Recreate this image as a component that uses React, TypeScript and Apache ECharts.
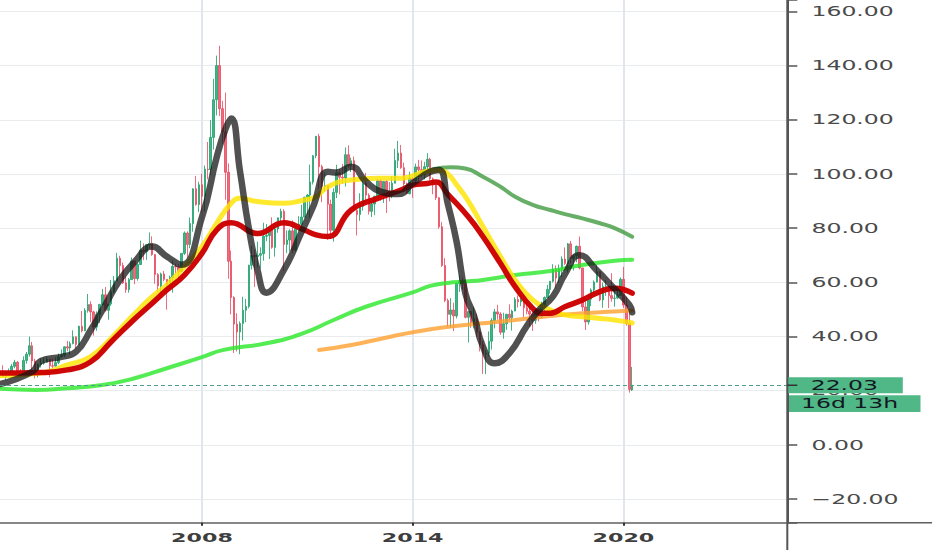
import React, { useEffect, useRef } from "react";
import * as echarts from "echarts";

const W = 932;
const H = 550;
const AXIS_X = 787.3;
const AXIS_Y = 522.7;

// ---- categories: monthly bars from 2002-04 ----
const firstYear = 2002;
const firstMonthNum = 4;
const monthCount = 270;
const months: string[] = Array.from({ length: monthCount }, (_, i) => {
  const t = firstMonthNum - 1 + i;
  const y = firstYear + Math.floor(t / 12);
  const m = (t % 12) + 1;
  return `${y}-${String(m).padStart(2, "0")}`;
});

// ---- tick labels ----
const yTicks = [-20, 0, 20, 40, 60, 80, 100, 120, 140, 160];
const xTickMonths = ["2008-01", "2014-01", "2020-01"];
const xTickLabels = ["2008", "2014", "2020"];
const lastPrice = 22.03;
const countdown = "16d 13h";

// ---- monthly candles [open, close, low, high] from 2002-04 ----
const candles: number[][] = [
  // 2002
  [26.3, 27.3, 23.4, 28.4], [27.3, 25.3, 24.9, 29.4], [25.3, 26.9, 24.0, 27.0], [26.9, 27.0, 25.8, 28.2],
  [27.0, 29.0, 26.1, 29.9], [29.0, 30.5, 28.3, 31.4], [30.5, 27.2, 26.8, 31.0], [27.2, 26.9, 25.1, 28.0],
  [26.9, 31.2, 26.1, 32.7],
  // 2003
  [31.2, 33.5, 30.0, 34.3], [33.5, 36.6, 32.6, 40.0], [36.6, 31.0, 26.9, 38.0], [31.0, 25.8, 24.6, 31.8],
  [25.8, 29.6, 24.9, 30.0], [29.6, 30.2, 28.6, 32.0], [30.2, 30.5, 29.6, 32.4], [30.5, 31.6, 30.4, 32.6],
  [31.6, 29.2, 25.0, 31.7], [29.2, 29.1, 28.4, 31.8], [29.1, 30.4, 28.9, 32.3], [30.4, 32.5, 29.8, 33.7],
  // 2004
  [32.5, 33.1, 32.2, 35.3], [33.1, 36.2, 32.4, 36.4], [36.2, 35.8, 34.6, 38.4], [35.8, 37.4, 33.3, 38.2],
  [37.4, 39.9, 37.1, 42.3], [39.9, 37.1, 35.6, 40.0], [37.1, 43.8, 37.0, 44.0], [43.8, 42.1, 41.5, 49.4],
  [42.1, 49.6, 42.0, 50.5], [49.6, 51.8, 48.8, 55.7], [51.8, 49.1, 45.3, 53.0], [49.1, 43.5, 40.3, 49.5],
  // 2005
  [43.5, 48.2, 42.1, 49.3], [48.2, 51.8, 45.0, 52.1], [51.8, 55.4, 51.2, 57.6], [55.4, 49.7, 49.2, 58.3],
  [49.7, 52.0, 46.2, 52.1], [52.0, 56.5, 51.3, 60.9], [56.5, 60.6, 56.0, 62.3], [60.6, 68.9, 60.4, 70.9],
  [68.9, 66.2, 62.3, 69.8], [66.2, 59.8, 59.4, 67.3], [59.8, 57.3, 56.1, 62.1], [57.3, 61.0, 56.2, 61.6],
  // 2006
  [61.0, 67.9, 61.0, 69.2], [67.9, 61.4, 59.3, 68.0], [61.4, 66.6, 60.6, 67.2], [66.6, 71.9, 66.4, 75.4],
  [71.9, 71.3, 68.2, 74.4], [71.3, 73.9, 68.3, 74.0], [73.9, 74.4, 72.5, 78.4], [74.4, 70.3, 69.8, 77.0],
  [70.3, 62.9, 59.5, 70.3], [62.9, 58.7, 56.6, 63.4], [58.7, 63.1, 55.9, 63.6], [63.1, 61.1, 60.4, 64.2],
  // 2007
  [61.1, 58.1, 49.9, 61.1], [58.1, 61.8, 57.2, 62.5], [61.8, 65.9, 56.2, 68.1], [65.9, 65.7, 63.0, 66.9],
  [65.7, 64.0, 61.3, 66.8], [64.0, 70.7, 64.0, 70.7], [70.7, 78.2, 70.1, 78.8], [78.2, 74.0, 69.0, 78.8],
  [74.0, 81.7, 72.6, 83.9], [81.7, 94.5, 78.7, 94.7], [94.5, 88.7, 88.3, 99.3], [88.7, 96.0, 85.9, 97.1],
  // 2008
  [96.0, 91.8, 86.1, 100.1], [91.8, 101.8, 86.1, 103.1], [101.8, 101.6, 98.0, 111.8], [101.6, 113.5, 99.6, 119.9],
  [113.5, 127.4, 109.0, 135.1], [127.4, 140.0, 121.6, 143.7], [140.0, 124.1, 121.4, 147.3], [124.1, 115.5, 111.3, 127.0],
  [115.5, 100.6, 90.5, 130.0], [100.6, 67.8, 61.3, 103.9], [67.8, 54.4, 48.2, 71.8], [54.4, 44.6, 33.9, 54.9],
  // 2009
  [44.6, 41.7, 34.5, 48.6], [41.7, 44.8, 33.5, 45.6], [44.8, 49.7, 38.5, 54.7], [49.7, 51.1, 45.3, 53.9],
  [51.1, 66.3, 50.4, 66.5], [66.3, 69.9, 64.7, 73.4], [69.9, 69.5, 58.3, 72.0], [69.5, 70.0, 65.5, 75.0],
  [70.0, 70.6, 65.1, 72.9], [70.6, 77.0, 68.0, 82.0], [77.0, 77.3, 75.2, 81.5], [77.3, 79.4, 68.6, 80.0],
  // 2010
  [79.4, 72.9, 72.4, 84.0], [72.9, 79.7, 69.5, 80.5], [79.7, 83.8, 78.3, 83.9], [83.8, 86.2, 82.0, 87.2],
  [86.2, 74.0, 64.2, 87.0], [74.0, 75.6, 70.8, 79.2], [75.6, 79.0, 71.4, 79.6], [79.0, 71.9, 70.8, 82.9],
  [71.9, 80.0, 71.3, 80.2], [80.0, 81.4, 79.0, 84.4], [81.4, 84.1, 79.7, 88.6], [84.1, 91.4, 83.9, 91.6],
  // 2011
  [91.4, 92.2, 85.1, 92.6], [92.2, 97.0, 83.9, 103.4], [97.0, 106.7, 96.1, 107.0], [106.7, 113.9, 105.8, 114.0],
  [113.9, 102.7, 94.6, 114.8], [102.7, 95.4, 89.6, 103.4], [95.4, 95.7, 93.4, 100.6], [95.7, 88.8, 75.7, 95.8],
  [88.8, 79.2, 77.1, 90.5], [79.2, 93.2, 75.0, 94.7], [93.2, 100.4, 91.1, 103.4], [100.4, 98.8, 92.5, 101.8],
  // 2012
  [98.8, 98.5, 96.4, 103.7], [98.5, 107.1, 95.4, 109.8], [107.1, 103.0, 102.1, 110.6], [103.0, 104.9, 100.7, 106.0],
  [104.9, 86.5, 86.2, 106.4], [86.5, 85.0, 77.3, 86.9], [85.0, 88.1, 82.7, 92.9], [88.1, 96.5, 86.5, 98.3],
  [96.5, 92.2, 89.6, 100.4], [92.2, 86.2, 85.0, 92.9], [86.2, 88.9, 84.1, 89.9], [88.9, 91.8, 84.8, 91.9],
  // 2013
  [91.8, 97.5, 91.8, 98.2], [97.5, 92.1, 90.1, 98.0], [92.1, 97.2, 89.3, 97.4], [97.2, 93.5, 85.6, 97.8],
  [93.5, 92.0, 89.9, 97.0], [92.0, 96.6, 91.1, 99.1], [96.6, 105.0, 96.6, 109.3], [105.0, 107.7, 102.2, 112.2],
  [107.7, 102.3, 101.9, 110.7], [102.3, 96.4, 95.6, 104.2], [96.4, 92.7, 92.5, 96.9], [92.7, 98.4, 92.5, 100.8],
  // 2014
  [98.4, 97.5, 91.2, 98.9], [97.5, 102.6, 96.0, 103.8], [102.6, 101.6, 97.4, 105.2], [101.6, 99.7, 98.9, 105.0],
  [99.7, 102.7, 98.0, 104.5], [102.7, 105.4, 101.4, 107.7], [105.4, 98.2, 97.6, 106.0], [98.2, 96.0, 92.5, 98.7],
  [96.0, 91.2, 90.4, 96.0], [91.2, 80.5, 79.8, 91.5], [80.5, 66.2, 65.7, 82.2], [66.2, 53.3, 52.7, 68.9],
  // 2015
  [53.3, 48.2, 43.6, 54.0], [48.2, 49.8, 43.2, 54.2], [49.8, 47.6, 42.0, 52.5], [47.6, 59.6, 46.7, 59.9],
  [59.6, 60.3, 56.5, 62.6], [60.3, 59.5, 57.3, 61.8], [59.5, 47.1, 46.7, 59.9], [47.1, 49.2, 37.8, 49.3],
  [49.2, 45.1, 43.2, 49.4], [45.1, 46.6, 43.0, 50.9], [46.6, 41.7, 39.9, 48.4], [41.7, 37.0, 34.5, 42.0],
  // 2016
  [37.0, 33.6, 26.2, 38.4], [33.6, 33.8, 26.1, 35.0], [33.8, 38.3, 32.7, 41.9], [38.3, 45.9, 35.2, 46.8],
  [45.9, 49.1, 43.0, 50.2], [49.1, 48.3, 46.2, 51.7], [48.3, 41.6, 40.6, 49.0], [41.6, 44.7, 39.2, 48.8],
  [44.7, 48.2, 42.5, 48.4], [48.2, 46.9, 46.0, 51.9], [46.9, 49.4, 42.2, 49.9], [49.4, 53.7, 49.4, 54.5],
  // 2017
  [53.7, 52.8, 50.7, 55.2], [52.8, 54.0, 51.2, 54.9], [54.0, 50.6, 47.1, 54.3], [50.6, 49.3, 48.2, 53.8],
  [49.3, 48.3, 43.8, 52.0], [48.3, 46.0, 42.1, 49.3], [46.0, 50.2, 44.7, 50.4], [50.2, 47.2, 45.6, 50.4],
  [47.2, 51.7, 46.6, 52.9], [51.7, 54.4, 49.1, 54.8], [54.4, 57.4, 54.2, 59.1], [57.4, 60.4, 55.8, 60.5],
  // 2018
  [60.4, 64.7, 59.9, 66.7], [64.7, 61.6, 58.1, 66.2], [61.6, 64.9, 59.9, 66.6], [64.9, 68.6, 62.0, 69.6],
  [68.6, 67.0, 66.4, 72.9], [67.0, 74.2, 63.6, 74.5], [74.2, 68.8, 67.0, 75.3], [68.8, 69.8, 64.4, 70.5],
  [69.8, 73.3, 67.4, 73.6], [73.3, 65.3, 64.8, 76.9], [65.3, 50.9, 49.4, 65.4], [50.9, 45.4, 42.4, 54.6],
  // 2019
  [45.4, 53.8, 44.4, 55.6], [53.8, 57.2, 51.2, 57.8], [57.2, 60.1, 55.4, 60.7], [60.1, 63.9, 60.0, 66.6],
  [63.9, 53.5, 53.0, 64.0], [53.5, 58.5, 50.6, 59.9], [58.5, 58.6, 55.0, 60.9], [58.6, 55.1, 50.5, 58.8],
  [55.1, 54.1, 52.9, 63.4], [54.1, 54.2, 51.0, 56.9], [54.2, 55.2, 53.9, 58.7], [55.2, 61.1, 55.0, 61.8],
  // 2020
  [61.1, 51.6, 50.6, 65.7], [51.6, 44.8, 44.0, 54.7], [44.8, 20.5, 19.3, 48.7], [20.3, 22.03, 19.9, 28.8],
];

// ---- moving-average style lines ----
const blackLine: [string, number][] = [
  ["2002-04", 22.5], ["2003-03", 27], ["2003-06", 31], ["2004-01", 32.5], ["2004-06", 34.4],
  ["2004-11", 42.4], ["2005-04", 51.7], ["2005-09", 61], ["2006-02", 67.6], ["2006-08", 73.2],
  ["2007-01", 69.5], ["2007-06", 66.5], ["2008-01", 84], ["2008-06", 106], ["2008-09", 116.5],
  ["2008-11", 120.5], ["2009-02", 101], ["2009-05", 80], ["2009-08", 64.5], ["2009-11", 56.2],
  ["2010-05", 64.6], ["2010-11", 78.5], ["2011-03", 88], ["2011-08", 100.8], ["2011-11", 100.5],
  ["2012-04", 102.7], ["2012-09", 97.2], ["2013-02", 93.5], ["2013-08", 92.6], ["2014-01", 96.5],
  ["2014-07", 100.8], ["2014-10", 101.5], ["2015-01", 89], ["2015-04", 75], ["2015-07", 56],
  ["2015-10", 47.5], ["2016-01", 36.3], ["2016-05", 30.1], ["2016-10", 33.8], ["2017-04", 43.9],
  ["2017-08", 49.6], ["2018-01", 54.9], ["2018-05", 63], ["2018-10", 70], ["2019-04", 64.3],
  ["2019-09", 58.7], ["2020-03", 51.7], ["2020-04", 49],
];
const yellowLine: [string, number][] = [
  ["2002-04", 25.5], ["2003-06", 26.5], ["2004-03", 29.5], ["2004-11", 32.6], ["2005-06", 39.4],
  ["2006-01", 47.3], ["2006-08", 54.7], ["2007-01", 59], ["2007-07", 65.8], ["2008-01", 73.2],
  ["2008-06", 81.8], ["2008-11", 89.2], ["2009-02", 91], ["2009-08", 89.8], ["2010-05", 89.2],
  ["2010-12", 90.4], ["2011-04", 91.6], ["2011-08", 95.3], ["2012-04", 97.8], ["2013-01", 98.4],
  ["2013-09", 98.4], ["2014-06", 101], ["2014-10", 101.3], ["2015-01", 100], ["2015-04", 96],
  ["2015-08", 90], ["2016-01", 80.6], ["2016-07", 69.5], ["2016-12", 60.9], ["2017-06", 53.5],
  ["2017-12", 49.8], ["2018-05", 48], ["2018-11", 47.3], ["2019-05", 46.7], ["2019-10", 46.1],
  ["2020-04", 45],
];
const redLine: [string, number][] = [
  ["2002-04", 26.5], ["2003-06", 26.7], ["2004-03", 27.7], ["2004-11", 30.7], ["2005-06", 38.1],
  ["2006-01", 45.5], ["2006-08", 52.3], ["2007-01", 57.2], ["2007-07", 62.7], ["2008-01", 70.7],
  ["2008-06", 79.3], ["2008-11", 82], ["2009-08", 78], ["2010-05", 82], ["2010-12", 79.3],
  ["2011-04", 77.5], ["2011-08", 76.9], ["2012-04", 86.7], ["2013-01", 91], ["2013-09", 94.1],
  ["2014-01", 95.9], ["2014-06", 96.5], ["2014-09", 97], ["2015-01", 92.5], ["2015-08", 84.2],
  ["2016-01", 76.9], ["2016-07", 67], ["2016-12", 58.4], ["2017-06", 50.4], ["2017-09", 48.6],
  ["2017-12", 48.6], ["2018-05", 51], ["2018-11", 53.5], ["2019-05", 56.6], ["2019-10", 57.8],
  ["2020-04", 56],
];
const darkGreenLine: [string, number][] = [
  ["2014-03", 99.5], ["2014-08", 101.8], ["2015-02", 102.5], ["2015-07", 102], ["2016-01", 99],
  ["2016-07", 95.3], ["2016-12", 91.6], ["2017-06", 88.6], ["2017-12", 86.7], ["2018-05", 85.2],
  ["2018-11", 83.6], ["2019-05", 81.8], ["2019-10", 80], ["2020-04", 76.8],
];
const brightGreenLine: [string, number][] = [
  ["2002-04", 20.7], ["2003-04", 20.3], ["2004-03", 20.9], ["2005-03", 22.1], ["2006-02", 24.6],
  ["2007-01", 28.3], ["2008-01", 32.4], ["2008-08", 35], ["2009-11", 37.5], ["2010-11", 41],
  ["2011-10", 46.1], ["2012-09", 51], ["2014-01", 56.3], ["2014-07", 58.7], ["2015-01", 59.8],
  ["2015-07", 60.3], ["2016-01", 60.9], ["2016-12", 62.7], ["2017-12", 64.2], ["2018-11", 66.4],
  ["2019-10", 68], ["2020-04", 68.3],
];
const orangeLine: [string, number][] = [
  ["2011-05", 35], ["2012-04", 36.9], ["2013-03", 39.4], ["2014-02", 41.8], ["2015-02", 43.7],
  ["2016-01", 44.9], ["2016-12", 46.1], ["2017-12", 47.6], ["2018-11", 48.6], ["2019-10", 49.2],
  ["2020-04", 49.6],
];

const UP = "rgba(38,163,112,0.85)";
const DOWN = "rgba(232,72,95,0.8)";
const BOX = "#4fb886";
const LABEL_SCALE = 1.68;

function lineSeries(name: string, data: [string, number][], color: string, width: number) {
  return {
    name,
    type: "line",
    data,
    smooth: 0.5,
    symbol: "none",
    showSymbol: false,
    silent: true,
    lineStyle: { color, width, cap: "round", join: "round" },
    z: 3,
  };
}

function buildOption() {
  const isTick = (_i: number, v: string) => xTickMonths.includes(v);
  return {
    animation: false,
    backgroundColor: "#ffffff",
    grid: { left: 0, right: W - AXIS_X, top: 0, bottom: H - AXIS_Y, containLabel: false },
    xAxis: {
      type: "category",
      data: months,
      boundaryGap: false,
      axisLine: { show: true, onZero: false, lineStyle: { color: "#5f5f5f", width: 1.5 } },
      axisTick: { show: true, interval: isTick, length: 3, lineStyle: { color: "#333", width: 2 } },
      axisLabel: { show: false },
      splitLine: { show: true, interval: isTick, lineStyle: { color: "#e0e6ed", width: 2 } },
    },
    yAxis: {
      type: "value",
      position: "right",
      min: -28.7,
      max: 164.2,
      splitNumber: 10,
      axisLine: { show: true, lineStyle: { color: "#555", width: 2 } },
      axisTick: { show: true, length: 10, lineStyle: { color: "#555", width: 1.5 } },
      axisLabel: { show: false },
      splitLine: {
        show: true,
        showMinLine: false,
        showMaxLine: false,
        lineStyle: { color: "#e9ecef", width: 1 },
      },
    },
    series: [
      {
        name: "WTI",
        type: "candlestick",
        data: candles,
        barWidth: 2,
        silent: true,
        itemStyle: { color: UP, color0: DOWN, borderColor: UP, borderColor0: DOWN, borderWidth: 1 },
        markLine: {
          silent: true,
          symbol: ["none", "none"],
          label: { show: false },
          lineStyle: { color: "#4f9f86", type: [4, 3], width: 1 },
          data: [{ yAxis: lastPrice }],
        },
        z: 2,
      },
      lineSeries("MA orange", orangeLine, "rgba(255,160,48,0.8)", 4),
      lineSeries("MA lime", brightGreenLine, "rgba(40,232,40,0.8)", 4),
      lineSeries("MA green", darkGreenLine, "rgba(52,148,52,0.75)", 4),
      lineSeries("MA yellow", yellowLine, "rgba(255,228,0,0.82)", 5),
      lineSeries("MA red", redLine, "rgba(204,0,0,0.97)", 5.5),
      lineSeries("MA black", blackLine, "rgba(20,20,20,0.74)", 6.5),
    ],
  };
}

function textEl(text: string, x: number, y: number, opts: any) {
  return {
    type: "text",
    x,
    y,
    scaleX: opts.scaleX ?? LABEL_SCALE,
    z: opts.z ?? 110,
    silent: true,
    style: {
      text,
      fill: opts.fill ?? "#4a4a4a",
      fontSize: opts.fontSize ?? 14,
      fontFamily: "DejaVu Sans",
      fontWeight: opts.fontWeight ?? "normal",
      align: opts.align ?? "left",
      textAlign: opts.align ?? "left",
      verticalAlign: "middle",
      textVerticalAlign: "middle",
    },
  };
}

export default function App() {
  const ref = useRef<HTMLDivElement>(null);
  useEffect(() => {
    document.body.style.margin = "0";
    if (!ref.current) return;
    const chart = echarts.init(ref.current, undefined, { renderer: "svg", width: W, height: H });
    chart.setOption(buildOption() as any);

    const xPix = (m: string) => chart.convertToPixel({ xAxisIndex: 0 }, months.indexOf(m)) as number;
    const yPix = (v: number) => chart.convertToPixel({ yAxisIndex: 0 }, v) as number;

    const elements: any[] = [];
    // x axis line extension to the right edge
    elements.push({
      type: "line", z: 105, silent: true,
      shape: { x1: AXIS_X, y1: AXIS_Y, x2: W, y2: AXIS_Y },
      style: { stroke: "#5f5f5f", lineWidth: 1.5 },
    });
    // y tick labels (below the price boxes)
    yTicks.forEach((v) => {
      const txt = v < 0 ? "\u2212" + Math.abs(v).toFixed(2) : v.toFixed(2);
      elements.push(textEl(txt, AXIS_X + 24.2, yPix(v), { z: 100 }));
    });
    // x tick labels
    xTickMonths.forEach((m, i) => {
      elements.push(
        textEl(xTickLabels[i], xPix(m), AXIS_Y + 14.5, {
          fontSize: 12, fontWeight: "bold", align: "center", fill: "#3e3e3e", scaleX: 1.85,
        })
      );
    });
    // last price boxes
    const py = yPix(lastPrice);
    elements.push({
      type: "rect", z: 106, silent: true,
      shape: { x: AXIS_X - 0.5, y: py - 8, width: 116, height: 16 },
      style: { fill: BOX },
    });
    elements.push({
      type: "rect", z: 106, silent: true,
      shape: { x: AXIS_X + 1.7, y: py + 10, width: 131.5, height: 16.7 },
      style: { fill: BOX },
    });
    elements.push({
      type: "line", z: 108, silent: true,
      shape: { x1: AXIS_X, y1: 0, x2: AXIS_X, y2: H },
      style: { stroke: "#555", lineWidth: 2 },
    });
    elements.push({
      type: "line", z: 108, silent: true,
      shape: { x1: AXIS_X, y1: py, x2: AXIS_X + 10, y2: py },
      style: { stroke: "#333", lineWidth: 1.5 },
    });
    elements.push(textEl(lastPrice.toFixed(2), AXIS_X + 23.4, py + 0.5, { fill: "#131722" }));
    elements.push(textEl(countdown, AXIS_X + 13.7, py + 18.5, { fill: "#131722" }));

    chart.setOption({ graphic: { elements } } as any);
    return () => chart.dispose();
  }, []);
  return <div ref={ref} style={{ position: "absolute", left: 0, top: 0, width: W, height: H }} />;
}
